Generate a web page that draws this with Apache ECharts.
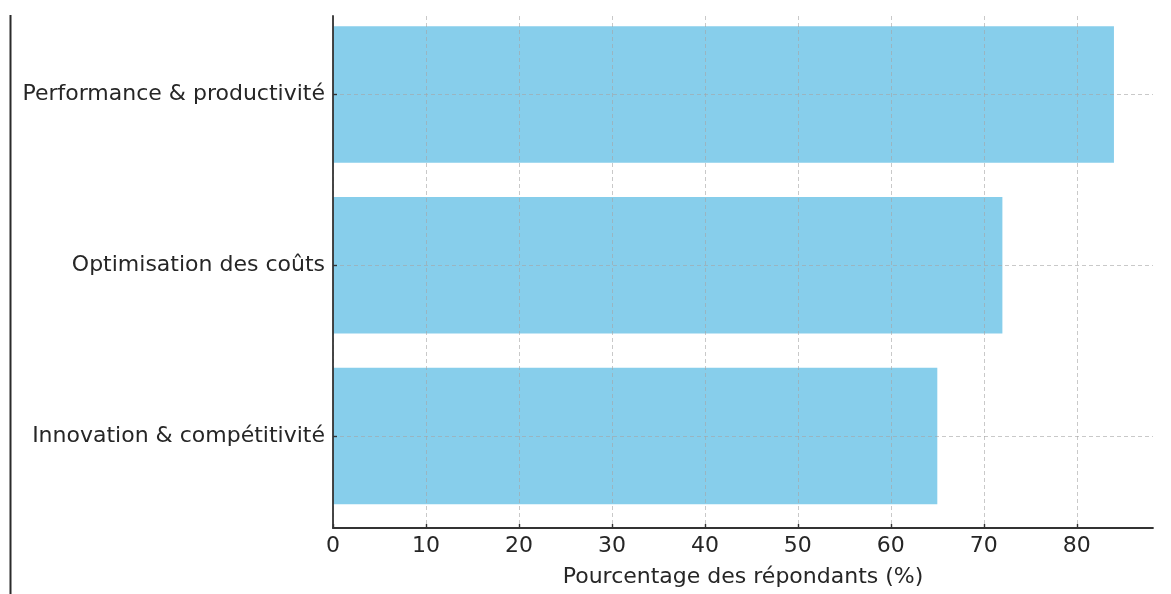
<!DOCTYPE html>
<html>
<head>
<meta charset="utf-8">
<script src="https://cdn.jsdelivr.net/npm/echarts@6/dist/echarts.min.js"></script>
<style>
  html, body { margin: 0; padding: 0; background: #fff; }
  #chart { width: 1171px; height: 594px; }
</style>
</head>
<body>
<div id="chart"></div>
<script>
// Categories listed from top to bottom
const categories = ['Performance & productivité', 'Optimisation des coûts', 'Innovation & compétitivité'];
const values = [84, 72, 65];
const xTicks = [0, 10, 20, 30, 40, 50, 60, 70, 80];
const xTitle = 'Pourcentage des répondants (%)';

const n = categories.length;
// position index: bottom category = 0
const positions = categories.map((c, i) => n - 1 - i);
const seriesData = values.map((v, i) => [v, positions[i]]);
const yTickValues = positions.slice().sort((a, b) => a - b);
const BAR_FRACTION = 0.8;

const FONT = 'DejaVu Sans';
const TXT = '#262626';
const AXIS = '#333333';
const GRIDC = 'rgba(165,165,165,0.6)';
const FS = 22;

const chart = echarts.init(document.getElementById('chart'), null, { renderer: 'canvas' });
chart.setOption({
  animation: false,
  backgroundColor: '#ffffff',
  textStyle: { fontFamily: FONT },
  grid: { left: 333, right: 18, top: 16, bottom: 66, containLabel: false },
  graphic: [{
    type: 'line',
    shape: { x1: 10.5, y1: 15, x2: 10.5, y2: 594 },
    style: { stroke: '#2b2b2b', lineWidth: 2 }
  }],
  xAxis: {
    type: 'value',
    min: 0,
    max: 88.2,
    z: 5,
    name: xTitle,
    nameLocation: 'middle',
    nameGap: 38,
    nameTextStyle: { fontFamily: FONT, fontSize: FS, color: TXT },
    axisLine: { show: true, onZero: false, lineStyle: { color: AXIS, width: 1.8 } },
    axisTick: { show: true, inside: true, length: 4, customValues: xTicks, lineStyle: { color: AXIS, width: 1.4 } },
    axisLabel: { customValues: xTicks, fontFamily: FONT, fontSize: FS, color: TXT, margin: 7 },
    splitLine: { show: true, lineStyle: { color: GRIDC, type: [4, 3], width: 1 } }
  },
  yAxis: {
    type: 'value',
    min: -0.539,
    max: 2.46,
    z: 5,
    axisLine: { show: true, onZero: false, lineStyle: { color: AXIS, width: 1.8 } },
    axisTick: { show: true, inside: true, length: 4, customValues: yTickValues, lineStyle: { color: AXIS, width: 1.4 } },
    axisLabel: {
      customValues: yTickValues,
      fontFamily: FONT, fontSize: FS, color: TXT, margin: 8,
      formatter: function (v) {
        const idx = positions.indexOf(Math.round(v));
        return idx >= 0 ? categories[idx] : '';
      }
    },
    splitLine: { show: true, lineStyle: { color: GRIDC, type: [4, 3], width: 1 } }
  },
  series: [{
    type: 'custom',
    z: 2,
    data: seriesData,
    encode: { x: 0, y: 1 },
    renderItem: function (params, api) {
      const v = api.value(0);
      const p = api.value(1);
      const start = api.coord([0, p]);
      const end = api.coord([v, p]);
      const h = api.size([0, BAR_FRACTION])[1];
      return {
        type: 'rect',
        shape: { x: start[0], y: start[1] - h / 2, width: end[0] - start[0], height: h },
        style: { fill: '#87CEEB' }
      };
    }
  }]
});
</script>
</body>
</html>
